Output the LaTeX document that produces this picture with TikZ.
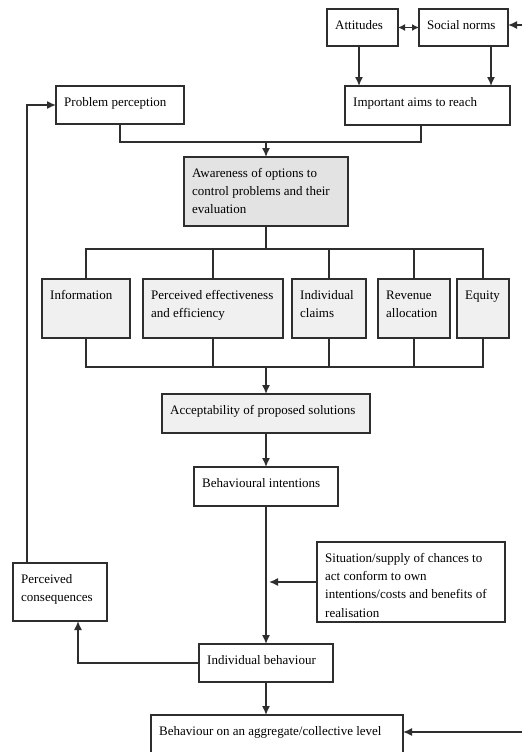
\documentclass[tikz,border=0pt]{standalone}
\usepackage{fontspec}
\setmainfont{Liberation Serif}
\usetikzlibrary{arrows.meta,calc,shadows}
\definecolor{bordc}{HTML}{2E2E2E}
\definecolor{graydark}{HTML}{E3E3E3}
\definecolor{graylight}{HTML}{F0F0F0}
\tikzset{
  boxst/.style={draw=bordc, line width=1.5pt, inner sep=0pt, outer sep=0pt,
    drop shadow={shadow xshift=0.8pt, shadow yshift=-0.8pt, fill=black!25, opacity=0.6}},
  txt/.style={inner sep=0pt, align=left, font=\fontsize{13}{18.3}\selectfont, text=black},
  conn/.style={draw=bordc, line width=1.5pt},
  arr/.style={conn, -{Latex[length=9pt,width=8pt]}},
  darr/.style={conn, {Latex[length=7pt,width=7pt]}-{Latex[length=7pt,width=7pt]}},
}
\newcommand\bx[7]{%
  \node[boxst, fill=#6, anchor=north west, minimum width={#4-#2}, minimum height={#5-#3}] (#1) at (#2,#3) {};
  \node[txt, anchor=north west] at ([xshift=8pt,yshift=-11pt]#1.north west) {\rule{0pt}{9pt}#7};}
\begin{document}
\begin{tikzpicture}[x=1pt,y=-1pt]
\useasboundingbox[fill=white] (0,0) rectangle (522,752);
\clip (0,0) rectangle (522,752);
% boxes
\bx{att}{327}{9}{398}{46}{white}{Attitudes}
\bx{soc}{419}{9}{508}{46}{white}{Social norms}
\bx{aims}{345}{86}{510}{125}{white}{Important aims to reach}
\bx{pp}{56}{86}{184}{124}{white}{Problem perception}
\bx{aw}{184}{157}{348}{226}{graydark}{Awareness of options to\\control problems and their\\evaluation}
\bx{info}{42}{279}{130}{338}{graylight}{Information}
\bx{pe}{143}{279}{283}{338}{graylight}{Perceived effectiveness\\and efficiency}
\bx{ic}{292}{279}{366}{338}{graylight}{Individual\\claims}
\bx{ra}{378}{279}{450}{338}{graylight}{Revenue\\allocation}
\bx{eq}{457}{279}{509}{338}{graylight}{Equity}
\bx{acc}{162}{394}{370}{433}{graylight}{Acceptability of proposed solutions}
\bx{bi}{194}{467}{338}{506}{white}{Behavioural intentions}
\bx{sit}{317}{542}{505}{622}{white}{Situation/supply of chances to\\act conform to own\\intentions/costs and benefits of\\realisation}
\bx{pc}{13}{563}{107}{621}{white}{Perceived\\consequences}
\bx{ib}{199}{644}{333}{682}{white}{Individual behaviour}
\bx{agg}{151}{715}{403}{756}{white}{Behaviour on an aggregate/collective level}
% coordinates
\coordinate (rin1) at (522,25);
\coordinate (rin2) at (522,732);
\coordinate (jn1) at (266,142);
\coordinate (bt) at (266,249);
\coordinate (bb) at (266,367);
% connectors top
\draw[darr] (att.east) -- (soc.west);
\draw[arr] (rin1) -- (rin1 -| soc.east);
\draw[arr] ([xshift=-3.5pt]att.south) -- ([xshift=-3.5pt]att.south |- aims.north);
\draw[arr] ([xshift=-17pt]soc.south east) -- ([xshift=-17pt]soc.south east |- aims.north);
\draw[conn] ([xshift=-6.5pt]aims.south) |- (jn1);
\draw[conn] (pp.south) |- (jn1);
\draw[arr] (jn1) -- (aw.north);
% branch bus
\draw[conn] (aw.south) -- (bt);
\draw[conn] (info.north) -- (info.north |- bt) -- (eq.north |- bt) -- (eq.north);
\draw[conn] (pe.north) -- (pe.north |- bt);
\draw[conn] (ic.north) -- (ic.north |- bt);
\draw[conn] (ra.north) -- (ra.north |- bt);
\draw[conn] (info.south) -- (info.south |- bb) -- (eq.south |- bb) -- (eq.south);
\draw[conn] (pe.south) -- (pe.south |- bb);
\draw[conn] (ic.south) -- (ic.south |- bb);
\draw[conn] (ra.south) -- (ra.south |- bb);
\draw[arr] (bb) -- (acc.north);
\draw[arr] (acc.south) -- (bi.north);
\draw[arr] (bi.south) -- (ib.north);
\draw[arr] (sit.west) -- ([xshift=3pt]sit.west -| bi.south);
\draw[arr] (ib.west) -| ([xshift=18pt]pc.south);
\draw[arr] ([xshift=14pt]pc.north west) |- (pp.west);
\draw[arr] (ib.south) -- (ib.south |- agg.north);
\draw[arr] (rin2) -- (rin2 -| agg.east);
\end{tikzpicture}
\end{document}
